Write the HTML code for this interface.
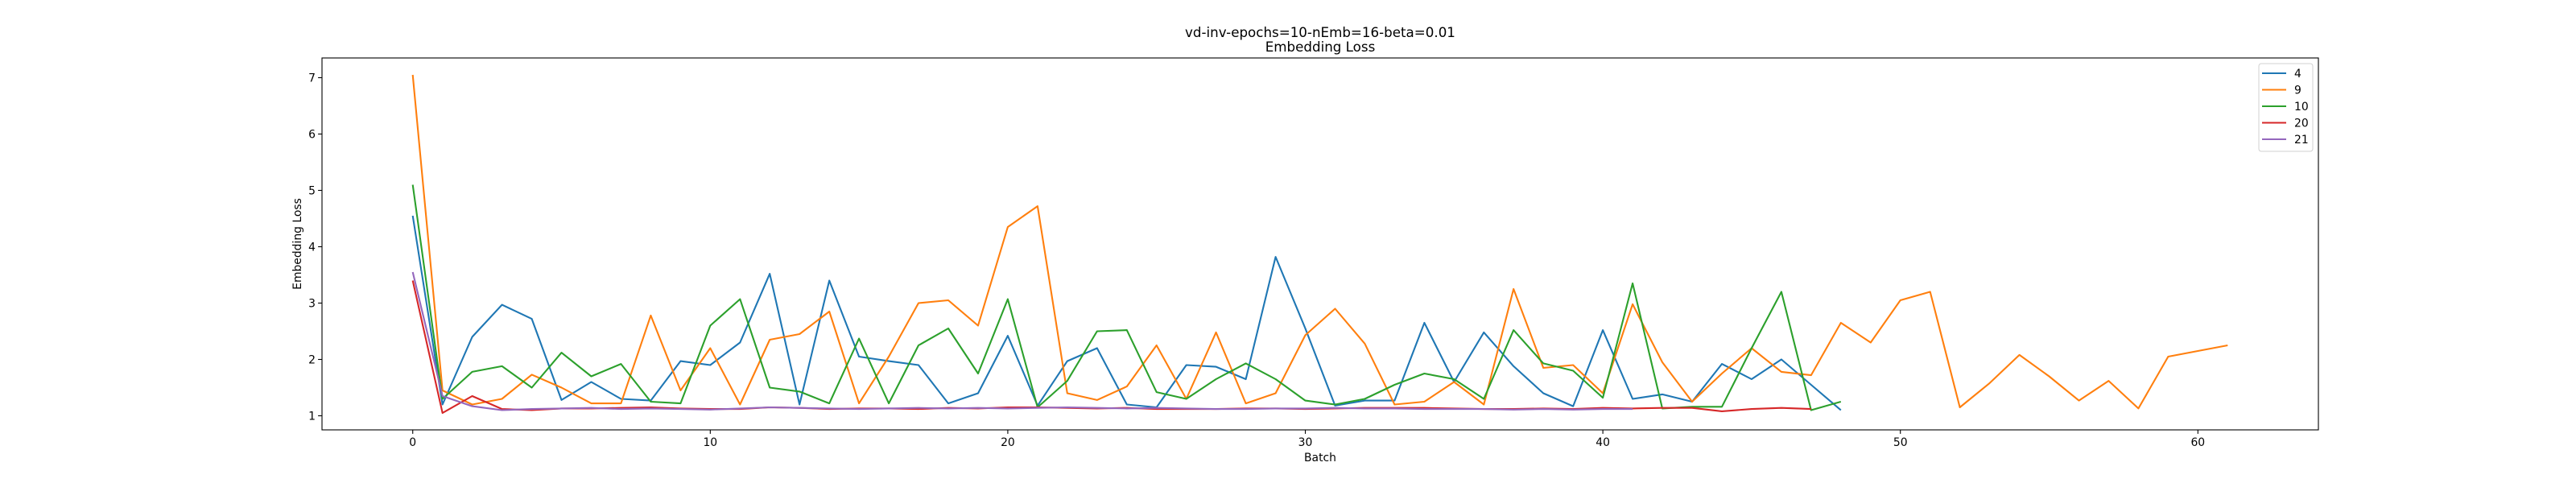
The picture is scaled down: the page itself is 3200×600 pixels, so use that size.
<!DOCTYPE html>
<html><head><meta charset="utf-8"><style>
html,body{margin:0;padding:0;background:#fff;}
svg{display:block;font-family:"DejaVu Sans","Liberation Sans",sans-serif;}
</style></head><body>
<svg id="chart" width="3200" height="600" viewBox="0 0 3200 600">
<rect x="0" y="0" width="3200" height="600" fill="#fff"/>
<text x="1640" y="46" font-size="16.7" text-anchor="middle">vd-inv-epochs=10-nEmb=16-beta=0.01</text>
<text x="1640" y="64" font-size="16.7" text-anchor="middle">Embedding Loss</text>
<g id="plot"></g>
</svg>
<script>
const seriesNames = ["4","9","10","20","21"];
const seriesColors = ["#1f77b4","#ff7f0e","#2ca02c","#d62728","#9467bd"];
const s4 = [4.55,1.2,2.4,2.97,2.72,1.28,1.6,1.3,1.27,1.97,1.9,2.3,3.52,1.2,3.4,2.05,1.97,1.9,1.22,1.4,2.42,1.18,1.97,2.2,1.2,1.15,1.9,1.87,1.65,3.82,2.55,1.18,1.27,1.27,2.65,1.6,2.48,1.88,1.4,1.17,2.52,1.3,1.38,1.25,1.92,1.65,2.0,1.55,1.1];
const s9 = [7.05,1.45,1.2,1.3,1.73,1.5,1.22,1.22,2.78,1.45,2.2,1.2,2.35,2.45,2.85,1.22,2.05,3.0,3.05,2.6,4.35,4.72,1.4,1.28,1.52,2.25,1.3,2.48,1.22,1.4,2.43,2.9,2.28,1.2,1.25,1.6,1.2,3.25,1.85,1.9,1.4,2.98,1.95,1.25,1.75,2.2,1.78,1.72,2.65,2.3,3.05,3.2,1.15,1.58,2.08,1.7,1.27,1.62,1.13,2.05,2.15,2.25];
const s10 = [5.1,1.3,1.78,1.88,1.5,2.12,1.7,1.92,1.25,1.22,2.6,3.07,1.5,1.43,1.22,2.37,1.22,2.25,2.55,1.75,3.07,1.15,1.62,2.5,2.52,1.42,1.3,1.65,1.93,1.65,1.27,1.2,1.3,1.55,1.75,1.65,1.3,2.52,1.93,1.8,1.32,3.35,1.13,1.16,1.16,2.2,3.2,1.1,1.25];
const s20 = [3.4,1.05,1.35,1.12,1.1,1.13,1.13,1.14,1.15,1.13,1.12,1.12,1.15,1.14,1.12,1.13,1.13,1.12,1.14,1.13,1.15,1.15,1.14,1.13,1.14,1.12,1.12,1.12,1.13,1.13,1.12,1.13,1.14,1.14,1.14,1.13,1.12,1.12,1.13,1.12,1.14,1.13,1.14,1.14,1.08,1.12,1.14,1.12];
const s21 = [3.55,1.35,1.17,1.1,1.12,1.13,1.14,1.12,1.13,1.12,1.11,1.13,1.15,1.14,1.13,1.12,1.13,1.14,1.13,1.14,1.13,1.14,1.15,1.14,1.13,1.14,1.13,1.12,1.12,1.13,1.13,1.14,1.13,1.13,1.12,1.12,1.12,1.11,1.12,1.11,1.12,1.12];
const xTicks = [0,10,20,30,40,50,60];
const yTicks = [1,2,3,4,5,6,7];

const NS="http://www.w3.org/2000/svg";
const plot=document.getElementById('plot');
const L=400,R=2880,T=72,B=534;
const all=[s4,s9,s10,s20,s21];
let maxLen=0,minV=Infinity,maxV=-Infinity;
all.forEach(a=>{maxLen=Math.max(maxLen,a.length-1);a.forEach(v=>{minV=Math.min(minV,v);maxV=Math.max(maxV,v);});});
const xm=maxLen*0.05, ym=(maxV-minV)*0.05;
const x0=-xm,x1=maxLen+xm,y0=minV-ym,y1=maxV+ym;
const sx=v=>L+(v-x0)/(x1-x0)*(R-L);
const sy=v=>B-(v-y0)/(y1-y0)*(B-T);
function mk(tag,attrs){const e=document.createElementNS(NS,tag);for(const k in attrs)e.setAttribute(k,attrs[k]);return e;}

all.forEach((a,i)=>{
  const p=mk('polyline',{points:a.map((v,j)=>sx(j).toFixed(1)+','+sy(v).toFixed(1)).join(' '),fill:'none',stroke:seriesColors[i],'stroke-width':2.1,'stroke-linejoin':'round'});
  
  
  plot.appendChild(p);
});

const frame=mk('rect',{x:L,y:T,width:R-L,height:B-T,fill:'none',stroke:'#000','stroke-width':1.1});


plot.appendChild(frame);

xTicks.forEach(t=>{
  const x=sx(t);
  const tk=mk('line',{x1:x,x2:x,y1:B,y2:B+4.9,stroke:'#000','stroke-width':1.1});
  
  
  plot.appendChild(tk);
  const tx=mk('text',{x:x,y:B+20,'font-size':13.9,'text-anchor':'middle'});
  tx.textContent=t;
  
  
  plot.appendChild(tx);
});
yTicks.forEach(t=>{
  const y=sy(t);
  const tk=mk('line',{x1:L-4.9,x2:L,y1:y,y2:y,stroke:'#000','stroke-width':1.1});
  
  
  plot.appendChild(tk);
  const tx=mk('text',{x:L-8,y:y+5,'font-size':13.9,'text-anchor':'end'});
  tx.textContent=t;
  
  
  plot.appendChild(tx);
});

const xl=mk('text',{x:(L+R)/2,y:573,'font-size':13.9,'text-anchor':'middle'});
xl.textContent='Batch';


plot.appendChild(xl);
const yl=mk('text',{x:0,y:0,'font-size':13.9,'text-anchor':'middle',transform:'translate(374,'+((T+B)/2)+') rotate(-90)'});
yl.textContent='Embedding Loss';


plot.appendChild(yl);

const lg=mk('g',{});


plot.appendChild(lg);
const lb=mk('rect',{x:2806,y:79,width:67,height:109,rx:3,fill:'#fff',stroke:'#ccc','stroke-width':1,opacity:0.9});


lg.appendChild(lb);
seriesNames.forEach((n,i)=>{
  const y=91+i*20.5;
  const ln=mk('line',{x1:2810,x2:2840,y1:y,y2:y,stroke:seriesColors[i],'stroke-width':2.1});
  
  
  lg.appendChild(ln);
  const tx=mk('text',{x:2850,y:y+5,'font-size':13.9});
  tx.textContent=n;
  
  
  lg.appendChild(tx);
});
</script>
</body></html>
